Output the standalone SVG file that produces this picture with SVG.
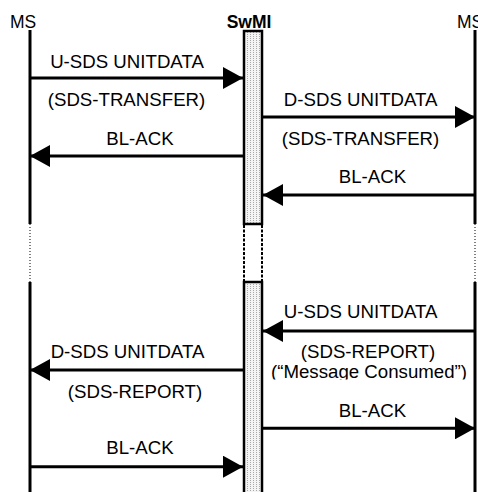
<svg xmlns="http://www.w3.org/2000/svg" width="478" height="492" viewBox="0 0 478 492">
  <style>
    text { font-family: "Liberation Sans", Arial, sans-serif; fill: #000; }
    .msg { font-size: 18.67px; text-anchor: middle; }
    .ent { font-size: 17.5px; }
    .life { stroke: #000; stroke-width: 3; fill: none; }
    .gap { stroke: #000; stroke-width: 1; stroke-dasharray: 1 2; fill: none; }
    .box { stroke: #000; stroke-width: 2.5; fill: url(#dots); }
    .dbox { stroke: #000; stroke-width: 2; stroke-dasharray: 3 1.5; fill: none; }
    .arrow { stroke: #000; stroke-width: 3; fill: none; marker-end: url(#ah); }
  </style>
  <defs>
    <pattern id="dots" width="3" height="2" patternUnits="userSpaceOnUse">
      <rect width="3" height="2" fill="#f4f4f4"/>
      <rect x="1" y="0" width="1" height="1" fill="#a8a8a8"/>
    </pattern>
    <marker id="ah" markerUnits="userSpaceOnUse" markerWidth="20" markerHeight="22" refX="20" refY="11" orient="auto" viewBox="0 0 20 22">
      <path d="M0,0 L20,11 L0,22 z" fill="#000"/>
    </marker>
    <clipPath id="clipMC">
      <rect x="0" y="340" width="478" height="39.5"/>
    </clipPath>
  </defs>

  <g id="ms-left">
    <text class="ent" x="10" y="28">MS</text>
    <line class="life" x1="30" y1="30" x2="30" y2="224"/>
    <line class="gap" x1="30" y1="224" x2="30" y2="282"/>
    <line class="life" x1="30" y1="282" x2="30" y2="492"/>
  </g>

  <g id="swmi">
    <text class="ent" x="249" y="28" text-anchor="middle" font-weight="bold">SwMI</text>
    <rect class="box" x="244" y="31" width="18" height="193"/>
    <line class="dbox" x1="244" y1="225" x2="244" y2="281"/>
    <line class="dbox" x1="262" y1="225" x2="262" y2="281"/>
    <rect class="box" x="244" y="282" width="18" height="220"/>
  </g>

  <g id="ms-right">
    <text class="ent" x="457" y="28">MS</text>
    <line class="life" x1="475" y1="30" x2="475" y2="224"/>
    <line class="gap" x1="475" y1="224" x2="475" y2="282"/>
    <line class="life" x1="475" y1="282" x2="475" y2="492"/>
  </g>

  <g id="connectors">
    <line class="arrow" x1="30" y1="78" x2="243" y2="78"/>
    <text class="msg" x="127" y="67.5">U-SDS UNITDATA</text>
    <text class="msg" x="126.5" y="106">(SDS-TRANSFER)</text>

    <line class="arrow" x1="263" y1="117" x2="475" y2="117"/>
    <text class="msg" x="360.7" y="106">D-SDS UNITDATA</text>
    <text class="msg" x="360.5" y="145">(SDS-TRANSFER)</text>

    <line class="arrow" x1="243" y1="156" x2="30" y2="156"/>
    <text class="msg" x="140" y="145">BL-ACK</text>

    <line class="arrow" x1="475" y1="195" x2="263" y2="195"/>
    <text class="msg" x="372.5" y="182.5">BL-ACK</text>

    <line class="arrow" x1="475" y1="331" x2="263" y2="331"/>
    <text class="msg" x="360.7" y="318.3">U-SDS UNITDATA</text>
    <text class="msg" x="368" y="358.3">(SDS-REPORT)</text>
    <text class="msg" x="369" y="378.3" clip-path="url(#clipMC)">(“Message Consumed”)</text>

    <line class="arrow" x1="243" y1="370" x2="30" y2="370"/>
    <text class="msg" x="127.5" y="358.3">D-SDS UNITDATA</text>
    <text class="msg" x="135" y="398.3">(SDS-REPORT)</text>

    <line class="arrow" x1="263" y1="428.3" x2="475" y2="428.3"/>
    <text class="msg" x="372.5" y="416.7">BL-ACK</text>

    <line class="arrow" x1="30" y1="466.7" x2="243" y2="466.7"/>
    <text class="msg" x="140" y="454.3">BL-ACK</text>
  </g>
</svg>
